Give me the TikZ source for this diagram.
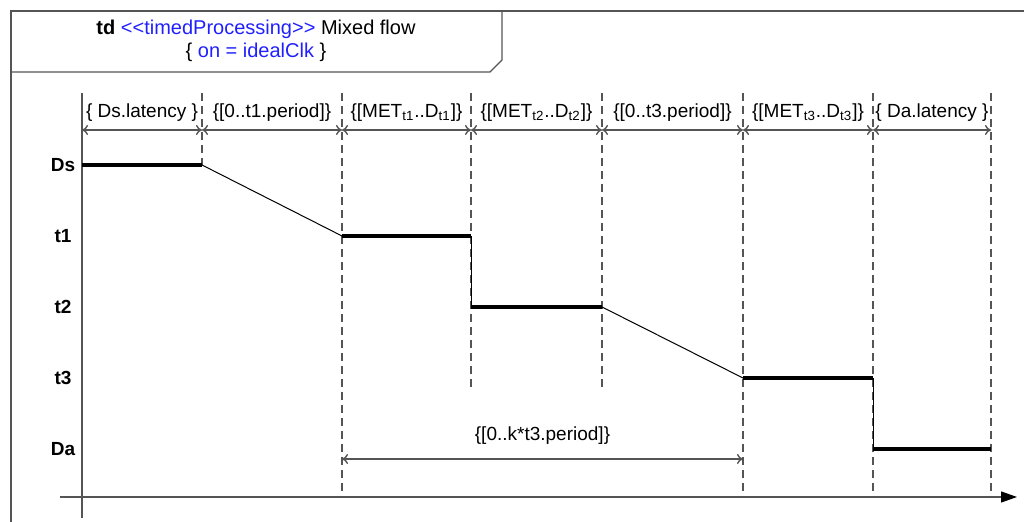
\documentclass[tikz,border=0pt]{standalone}
\usepackage{fontspec}
\setmainfont{Liberation Sans}
\usepackage{tikz}
\usetikzlibrary{calc,positioning,arrows.meta}

\definecolor{umlblue}{RGB}{32,32,255}
\definecolor{linegray}{RGB}{85,85,85}

\begin{document}
\begin{tikzpicture}[x=0.5pt, y=-0.5pt,
    every node/.style={font=\fontsize{9.5}{11.5}\selectfont, inner sep=1pt},
    frameline/.style={draw=linegray, line width=0.6pt},
    guide/.style={draw=linegray, line width=0.6pt, dash pattern=on 4pt off 2.5pt},
    dim/.style={draw=linegray, line width=0.7pt, {To[length=3pt,width=5pt]}-{To[length=3pt,width=5pt]}},
    level/.style={font=\fontsize{9.5}{11.5}\selectfont\bfseries},
    hold/.style={line width=1.6pt},
    ramp/.style={line width=0.5pt}]
  \useasboundingbox (0,0) rectangle (1024,522);

  % frame and title box
  \draw[frameline] (11,522) -- (11,11) -- (1024,11);
  \draw[frameline] (11,72) -- (490,72) -- (502,60) -- (502,11);
  \node[align=center, font=\fontsize{10}{11.5}\selectfont] (title) at (256,41)
    {\textbf{td} \textcolor{umlblue}{<{}<timedProcessing>{}>} Mixed flow\\
     \{ \textcolor{umlblue}{on = idealClk} \}};

  % axes
  \coordinate (ytop) at (82,93);
  \coordinate (ybot) at (82,518);
  \coordinate (xleft) at (60,497);
  \coordinate (xright) at (1017,497);
  \draw[frameline] (ytop) -- (ybot);
  \draw[frameline, -{Triangle[length=8pt,width=5.5pt,color=black]}] (xleft) -- (xright);

  % levels
  \node[level] (Ds) at (63,165) {Ds};
  \node[level] (t1) at (63,236) {t1};
  \node[level] (t2) at (63,307) {t2};
  \node[level] (t3) at (63,378) {t3};
  \node[level] (Da) at (63,449) {Da};

  % guide lines
  \draw[guide] (202,93) -- (202,165);
  \draw[guide] (342,93) -- (342,497);
  \draw[guide] (471,93) -- (471,388);
  \draw[guide] (602,93) -- (602,388);
  \draw[guide] (743,93) -- (743,497);
  \draw[guide] (873,93) -- (873,497);
  \draw[guide] (991,93) -- (991,497);

  % durations
  \coordinate (m0) at (82,130);
  \coordinate (m1) at (202,130);
  \coordinate (m2) at (342,130);
  \coordinate (m3) at (471,130);
  \coordinate (m4) at (602,130);
  \coordinate (m5) at (743,130);
  \coordinate (m6) at (873,130);
  \coordinate (m7) at (991,130);
  \draw[dim] (m0) -- node[above=3pt] {\{ Ds.latency \}} (m1);
  \draw[dim] (m1) -- node[above=3pt] {\{[0..t1.period]\}} (m2);
  \draw[dim] (m2) -- node[above=3pt] {\{[MET\textsubscript{t1}..D\textsubscript{t1}]\}} (m3);
  \draw[dim] (m3) -- node[above=3pt] {\{[MET\textsubscript{t2}..D\textsubscript{t2}]\}} (m4);
  \draw[dim] (m4) -- node[above=3pt] {\{[0..t3.period]\}} (m5);
  \draw[dim] (m5) -- node[above=3pt] {\{[MET\textsubscript{t3}..D\textsubscript{t3}]\}} (m6);
  \draw[dim] (m6) -- node[above=3pt] {\{ Da.latency \}} (m7);

  % flow
  \coordinate (a0) at (82,165);
  \coordinate (a1) at (202,165);
  \coordinate (a2) at (342,236);
  \coordinate (a3) at (471,236);
  \coordinate (a4) at (471,307);
  \coordinate (a5) at (602,307);
  \coordinate (a6) at (743,378);
  \coordinate (a7) at (873,378);
  \coordinate (a8) at (873,449);
  \coordinate (a9) at (991,449);
  \draw[hold] (a0) -- (a1);
  \draw[ramp] (a1) -- (a2);
  \draw[hold] (a2) -- (a3);
  \draw[ramp] (a3) -- (a4);
  \draw[hold] (a4) -- (a5);
  \draw[ramp] (a5) -- (a6);
  \draw[hold] (a6) -- (a7);
  \draw[ramp] (a7) -- (a8);
  \draw[hold] (a8) -- (a9);

  % overall period
  \coordinate (k0) at (342,459);
  \coordinate (k1) at (743,459);
  \draw[dim] (k0) -- node[above=6pt] {\{[0..k*t3.period]\}} (k1);
\end{tikzpicture}
\end{document}
